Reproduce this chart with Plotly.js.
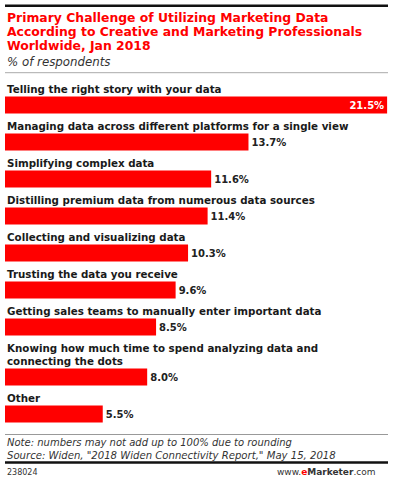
<!DOCTYPE html>
<html>
<head>
<meta charset="utf-8">
<script src="https://cdn.plot.ly/plotly-3.0.1.min.js"></script>
<style>html,body{margin:0;padding:0;background:#fff;}#chart{width:393px;height:480px;}</style>
</head>
<body>
<div id="chart"></div>
<script>
// ---- data ----
const categories = [
  "Telling the right story with your data",
  "Managing data across different platforms for a single view",
  "Simplifying complex data",
  "Distilling premium data from numerous data sources",
  "Collecting and visualizing data",
  "Trusting the data you receive",
  "Getting sales teams to manually enter important data",
  "Knowing how much time to spend analyzing data and<br>connecting the dots",
  "Other"
];
const values = [21.5, 13.7, 11.6, 11.4, 10.3, 9.6, 8.5, 8.0, 5.5];
const valueLabels = values.map(v => v.toFixed(1) + "%");
const titleLines = [
  "Primary Challenge of Utilizing Marketing Data",
  "According to Creative and Marketing Professionals",
  "Worldwide, Jan 2018"
];
const subtitle = "% of respondents";
const noteText = "Note: numbers may not add up to 100% due to rounding";
const sourceText = "Source: Widen, \"2018 Widen Connectivity Report,\" May 15, 2018";
const chartId = "238024";

// ---- layout helpers (pixel-mapped y axis) ----
const FONT = "DejaVu Sans, Verdana, sans-serif";
const firstCenter = 105, pitch = 37, extraLine = 13, barH = 17;
let centers = [], extra = 0;
categories.forEach((c, i) => {
  const n = c.split("<br>").length;
  extra += (n - 1) * extraLine;
  centers.push(firstCenter + i * pitch + extra);
});

const trace = {
  type: "bar",
  orientation: "h",
  x: values,
  y: centers,
  width: barH,
  marker: {color: "#ff0000", line: {width: 0}},
  text: valueLabels,
  textposition: values.map((v, i) => i === 0 ? "inside" : "outside"),
  insidetextanchor: "end",
  insidetextfont: {family: FONT, size: 10, color: "#ffffff", weight: "bold"},
  outsidetextfont: {family: FONT, size: 10, color: "#222222", weight: "bold"},
  textangle: 0,
  cliponaxis: false,
  hoverinfo: "none"
};

const annotations = [];
titleLines.forEach((t, i) => {
  annotations.push({xref: "paper", yref: "y", x: 0, y: 17.5 + i * 14, xanchor: "left", yanchor: "middle",
    text: "<b>" + t + "</b>", showarrow: false, font: {family: FONT, size: 12.4, color: "#ff0000"}});
});
annotations.push({xref: "paper", yref: "y", x: 0, y: 62, xanchor: "left", yanchor: "middle",
  text: "<i>" + subtitle + "</i>", showarrow: false, font: {family: FONT, size: 11.8, color: "#333333"}});
categories.forEach((c, i) => {
  const n = c.split("<br>").length;
  annotations.push({xref: "paper", yref: "y", x: 0, y: centers[i] - 16 - (n - 1) * 6.5, xanchor: "left", yanchor: "middle",
    align: "left", text: "<b>" + c + "</b>", showarrow: false, font: {family: FONT, size: 10.3, color: "#1a1a1a"}});
});
annotations.push({xref: "paper", yref: "y", x: 0, y: 442, xanchor: "left", yanchor: "middle",
  text: "<i>" + noteText + "</i>", showarrow: false, font: {family: FONT, size: 10, color: "#333333"}});
annotations.push({xref: "paper", yref: "y", x: 0, y: 455, xanchor: "left", yanchor: "middle",
  text: "<i>" + sourceText + "</i>", showarrow: false, font: {family: FONT, size: 10.1, color: "#333333"}});
annotations.push({xref: "paper", yref: "y", x: 0, y: 472, xanchor: "left", yanchor: "middle",
  text: chartId, showarrow: false, font: {family: FONT, size: 8, color: "#333333"}});
annotations.push({xref: "paper", yref: "y", x: 0.974, y: 472, xanchor: "right", yanchor: "middle",
  text: "www.<b><span style=\"color:#ff0000\">e</span>Marketer</b>.com", showarrow: false,
  font: {family: FONT, size: 9, color: "#333333"}});

const shapes = [
  {type: "line", xref: "paper", yref: "y", x0: 0, x1: 1, y0: 5.7, y1: 5.7, line: {color: "#111111", width: 2.5}},
  {type: "line", xref: "paper", yref: "y", x0: 0, x1: 1, y0: 72.7, y1: 72.7, line: {color: "#aaaaaa", width: 1}},
  {type: "line", xref: "paper", yref: "y", x0: 0, x1: 1, y0: 434.5, y1: 434.5, line: {color: "#999999", width: 1}},
  {type: "line", xref: "paper", yref: "y", x0: 0, x1: 1, y0: 462.5, y1: 462.5, line: {color: "#111111", width: 2.5}}
];

const layout = {
  width: 393, height: 480, autosize: false,
  margin: {l: 5, r: 5, t: 0, b: 0, pad: 0},
  paper_bgcolor: "#ffffff", plot_bgcolor: "#ffffff",
  showlegend: false,
  xaxis: {range: [0, 21.55], visible: false, fixedrange: true},
  yaxis: {range: [480, 0], visible: false, fixedrange: true},
  annotations: annotations,
  shapes: shapes,
  font: {family: FONT}
};

Plotly.newPlot("chart", [trace], layout, {displayModeBar: false, staticPlot: true});
</script>
</body>
</html>
